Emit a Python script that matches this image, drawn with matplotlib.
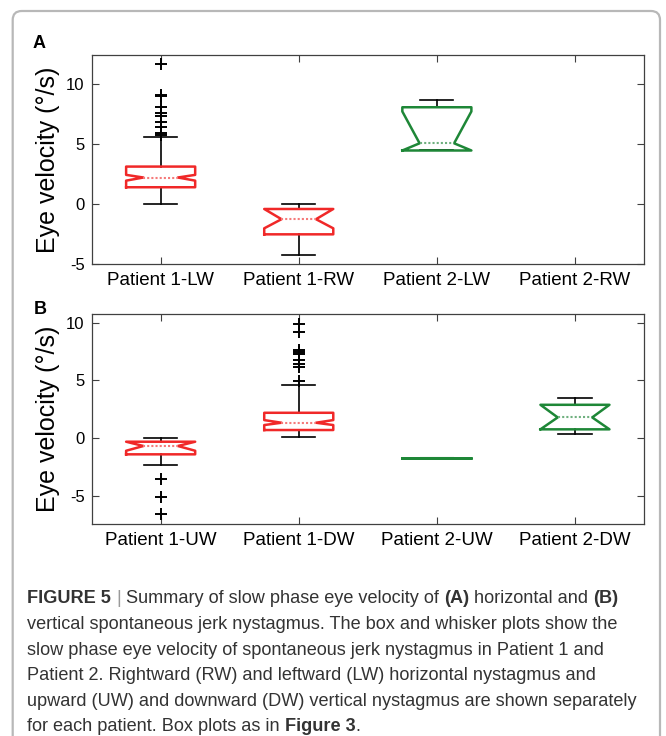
import numpy as np
import matplotlib
matplotlib.use('Agg')
import matplotlib.pyplot as plt
from matplotlib.patches import FancyBboxPatch

plt.rcParams['font.family'] = ['Liberation Sans', 'DejaVu Sans']
plt.rcParams['axes.unicode_minus'] = False

# ---- panel A: horizontal nystagmus ----
labels_a = ['Patient 1-LW', 'Patient 1-RW', 'Patient 2-LW', 'Patient 2-RW']
group_a = ['red', 'red', 'green', None]
q1_a = [1.39, -2.53, 4.45, None]
med_a = [2.2, -1.27, 5.05, None]
q3_a = [3.11, -0.42, 8.05, None]
lo_a = [0.03, -4.25, 4.45, None]
hi_a = [5.56, -0.02, 8.67, None]
cilo_a = [1.94, -2.03, 4.45, None]
cihi_a = [2.42, -0.42, 7.7, None]
fliers_a = [[11.67, 9.1, 8.95, 8.1, 7.56, 7.36, 6.86, 6.39, 5.89, 5.75], [], [], None]

# ---- panel B: vertical nystagmus ----
labels_b = ['Patient 1-UW', 'Patient 1-DW', 'Patient 2-UW', 'Patient 2-DW']
group_b = ['red', 'red', 'green', 'green']
q1_b = [-1.38, 0.72, -1.7, 0.78]
med_b = [-0.66, 1.35, -1.7, 1.81]
q3_b = [-0.29, 2.21, -1.7, 2.9]
lo_b = [-2.27, 0.08, -1.7, 0.37]
hi_b = [0.0, 4.6, -1.7, 3.5]
cilo_b = [-1.07, 1.15, -1.7, 0.78]
cihi_b = [-0.29, 1.58, -1.7, 2.9]
fliers_b = [[-3.5, -5.03, -6.55], [9.9, 9.2, 7.6, 7.45, 7.25, 6.75, 6.4, 6.15, 4.94], [], []]

box_col = {'red': '#f02828', 'green': '#1e8737'}
med_col = {'red': '#f57a7a', 'green': '#6fb07f'}

fig = plt.figure(figsize=(6.66, 7.36), dpi=100)
W, H = 666, 736


def px_axes(left, top, right, bottom):
    return fig.add_axes([left / W, 1 - bottom / H, (right - left) / W, (bottom - top) / H])


def draw_panel(ax, labels, group, q1, med, q3, lo, hi, cilo, cihi, fliers, ylim, yticks):
    for i in range(len(labels)):
        if med[i] is None:
            continue
        st = dict(med=med[i], q1=q1[i], q3=q3[i], whislo=lo[i], whishi=hi[i],
                  cilo=cilo[i], cihi=cihi[i], fliers=np.array(fliers[i]))
        # a single-value group is just a flat line, no dotted median on it
        flat = q1[i] == q3[i]
        ax.bxp([st], positions=[i + 1], widths=0.5, capwidths=0.24,
               shownotches=True, manage_ticks=False,
               boxprops=dict(color=box_col[group[i]], lw=1.8, zorder=3),
               medianprops=dict(color=box_col[group[i]] if flat else med_col[group[i]],
                                lw=1.5, ls='-' if flat else (0, (1, 1)), zorder=3.5),
               whiskerprops=dict(color='black', lw=1.2, zorder=2),
               capprops=dict(color='black', lw=1.2, zorder=2),
               flierprops=dict(marker='+', markeredgecolor='black', markersize=8,
                               markeredgewidth=1.4, linestyle='none'))
    ax.set_xlim(0.5, 4.5)
    ax.set_ylim(*ylim)
    ax.set_xticks(range(1, 5))
    ax.set_xticklabels(labels, fontsize=13.5)
    ax.set_yticks(yticks)
    ax.set_yticklabels([str(v) for v in yticks], fontsize=12)
    ax.tick_params(axis='both', direction='in', length=5, width=0.8, color='#404040',
                   top=True, right=True)
    ax.tick_params(axis='x', pad=6)
    ax.tick_params(axis='y', pad=5)
    for s in ax.spines.values():
        s.set_color('#404040')
        s.set_linewidth(0.9)
    ax.set_ylabel('Eye velocity (°/s)', fontsize=18)
    ax.yaxis.set_label_coords(-0.058, 0.5)


ax_a = px_axes(91.6, 55, 644, 264)
draw_panel(ax_a, labels_a, group_a, q1_a, med_a, q3_a, lo_a, hi_a, cilo_a, cihi_a,
           fliers_a, (-5, 12.4), [-5, 0, 5, 10])

ax_b = px_axes(91.6, 314.3, 644, 524)
draw_panel(ax_b, labels_b, group_b, q1_b, med_b, q3_b, lo_b, hi_b, cilo_b, cihi_b,
           fliers_b, (-7.4, 10.72), [-5, 0, 5, 10])

fig.text(33 / W, 1 - 48.3 / H, 'A', fontsize=13, weight='bold', va='baseline')
fig.text(34 / W, 1 - 314 / H, 'B', fontsize=13, weight='bold', va='baseline')

# outer grey frame
frame = FancyBboxPatch((12.7, -30), 660 - 12.7, 736 - 11 + 30,
                       boxstyle='round,pad=0,rounding_size=9',
                       fc='none', ec='#b8b8b8', lw=1.6, transform=None)
fig.patches.append(frame)

# caption, drawn run by run so bold pieces sit inline
cap_size = 13.1
cap_color = '#333333'
caption = [
    [('FIGURE 5', 'bold'), (' ', 'normal'), ('|', 'light'), (' Summary of slow phase eye velocity of ', 'normal'),
     ('(A)', 'bold'), (' horizontal and ', 'normal'), ('(B)', 'bold')],
    [('vertical spontaneous jerk nystagmus. The box and whisker plots show the', 'normal')],
    [('slow phase eye velocity of spontaneous jerk nystagmus in Patient 1 and', 'normal')],
    [('Patient 2. Rightward (RW) and leftward (LW) horizontal nystagmus and', 'normal')],
    [('upward (UW) and downward (DW) vertical nystagmus are shown separately', 'normal')],
    [('for each patient. Box plots as in ', 'normal'), ('Figure 3', 'bold'), ('.', 'normal')],
]
baselines = [603.3, 629, 654.6, 680.2, 705.8, 731.4]

renderer = fig.canvas.get_renderer()


def text_width(s, weight):
    t1 = fig.text(0, 0, '|' + s + '|', fontsize=cap_size, weight=weight)
    t2 = fig.text(0, 0, '||', fontsize=cap_size, weight=weight)
    w = t1.get_window_extent(renderer).width - t2.get_window_extent(renderer).width
    t1.remove()
    t2.remove()
    return w


for runs, yb in zip(caption, baselines):
    x = 27.3
    for s, kind in runs:
        weight = 'bold' if kind == 'bold' else 'normal'
        col = '#9a9a9a' if kind == 'light' else cap_color
        fig.text(x / W, 1 - yb / H, s, fontsize=cap_size, weight=weight,
                 color=col, va='baseline', ha='left')
        x += text_width(s, weight)

fig.savefig('out.png', dpi=100)
